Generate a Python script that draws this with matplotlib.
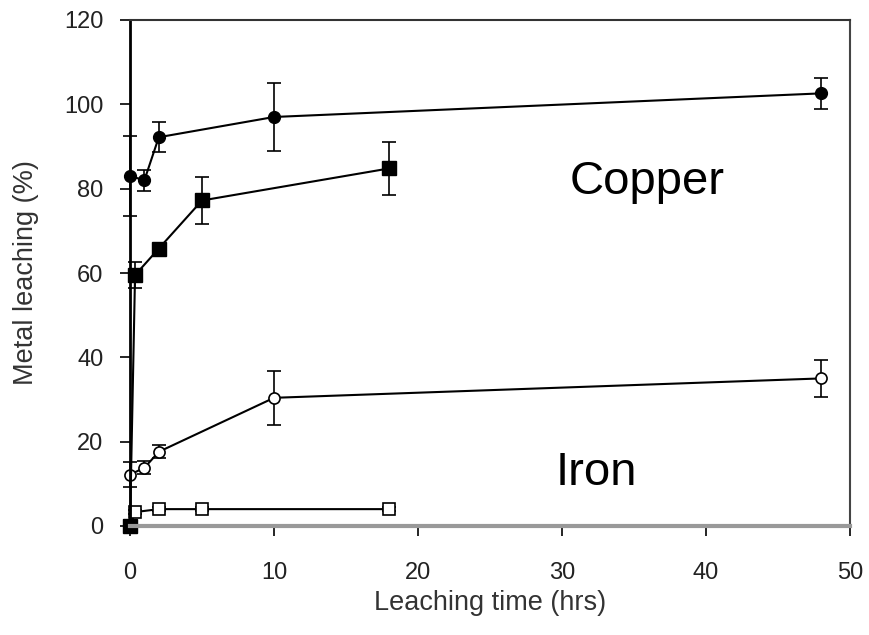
import matplotlib
matplotlib.use("Agg")
import matplotlib.pyplot as plt

plt.rcParams['font.family'] = ['Liberation Sans', 'DejaVu Sans']

# Copper (filled circles)
cu_c_x = [0, 1, 2, 10, 48]
cu_c_y = [83, 82, 92.2, 97, 102.6]
cu_c_e = [9.5, 2.5, 3.5, 8, 3.7]

# Copper (filled squares)
cu_s_x = [0, 0.35, 2, 5, 18]
cu_s_y = [0, 59.5, 65.8, 77.2, 84.8]
cu_s_e = [0, 3, 1, 5.5, 6.2]

# Iron (open circles)
fe_c_x = [0, 1, 2, 10, 48]
fe_c_y = [12.2, 13.8, 17.6, 30.4, 35]
fe_c_e = [2.9, 1.5, 1.5, 6.4, 4.4]

# Iron (open squares)
fe_s_x = [0, 0.35, 2, 5, 18]
fe_s_y = [0, 3.3, 4.0, 4.0, 4.0]
fe_s_e = [0, 0.5, 0.5, 0.5, 0.5]

xticks = [0, 10, 20, 30, 40, 50]
yticks = [0, 20, 40, 60, 80, 100, 120]

fig = plt.figure(figsize=(8.69, 6.35), dpi=100)
ax = fig.add_axes([130/869, 1-526/635, 720/869, 506/635])

common = dict(color='black', lw=1.5, capsize=5, elinewidth=1.2, capthick=1.2, clip_on=False)
ax.errorbar(fe_s_x, fe_s_y, yerr=fe_s_e, fmt='-s', ms=9, mfc='white', mec='black', mew=1.2, **common)
ax.errorbar(fe_c_x, fe_c_y, yerr=fe_c_e, fmt='-o', ms=8, mfc='white', mec='black', mew=1.2, **common)
ax.errorbar(cu_s_x, cu_s_y, yerr=cu_s_e, fmt='-s', ms=9.5, mfc='black', mec='black', **common)
ax.errorbar(cu_c_x, cu_c_y, yerr=cu_c_e, fmt='-o', ms=8.5, mfc='black', mec='black', **common)

ax.set_xlim(0, 50)
ax.set_ylim(0, 120)
ax.set_xticks(xticks)
ax.set_yticks(yticks)
ax.tick_params(axis='x', direction='out', length=7, width=1.2, pad=19, labelsize=17, labelcolor='#222222')
ax.tick_params(axis='y', direction='out', length=7, width=1.2, pad=12, labelsize=17, labelcolor='#222222')

ax.spines['left'].set_linewidth(2)
ax.spines['left'].set_color('black')
ax.spines['bottom'].set_linewidth(3)
ax.spines['bottom'].set_color('#999999')
ax.spines['top'].set_linewidth(1.5)
ax.spines['top'].set_color('#333333')
ax.spines['right'].set_linewidth(1.5)
ax.spines['right'].set_color('#444444')

ax.set_xlabel('Leaching time (hrs)', fontsize=19.5, color='#333333', labelpad=4)
ax.set_ylabel('Metal leaching (%)', fontsize=19.5, color='#333333', labelpad=18)

ax.text(35.9, 81.5, 'Copper', fontsize=34, ha='center', va='center')
ax.text(32.4, 12.5, 'Iron', fontsize=34, ha='center', va='center')

fig.savefig('out.png', dpi=100)
